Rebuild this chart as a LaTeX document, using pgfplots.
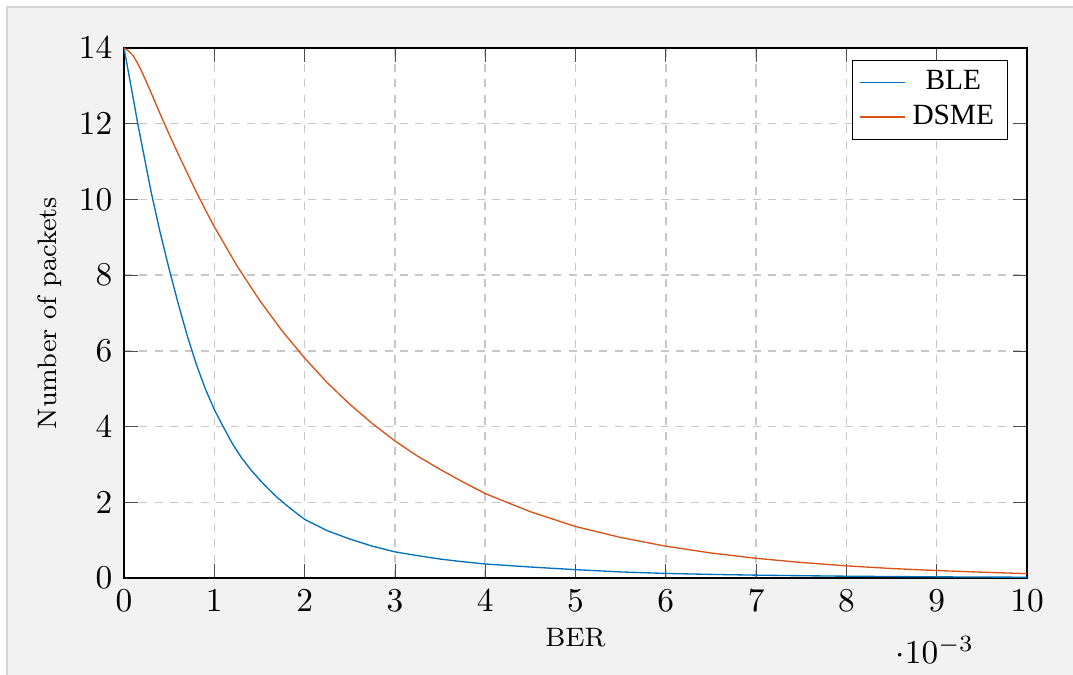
\documentclass[border=0pt]{standalone}
\usepackage{fontspec}
\usepackage{pgfplots}
\pgfplotsset{compat=1.18}
\newfontfamily\legfont{Liberation Serif}
\definecolor{bleblue}{rgb}{0,0.447,0.741}
\definecolor{dsmeorange}{rgb}{0.85,0.325,0.098}
\definecolor{bggray}{RGB}{242,242,242}
\definecolor{bordergray}{RGB}{212,212,212}
\definecolor{gridgray}{RGB}{200,200,200}
\begin{document}
\begin{tikzpicture}
\useasboundingbox (0,0) rectangle (321.9pt,202.5pt);
\fill[white] (0,0) rectangle (321.9pt,202.5pt);
\fill[bggray] (2.1pt,0) rectangle (321.9pt,200.4pt);
\draw[bordergray,line width=0.5pt] (2.1pt,0) -- (2.1pt,200.4pt) -- (321.9pt,200.4pt);
\begin{axis}[
  at={(37.2pt,29.1pt)}, anchor=south west,
  scale only axis,
  width=270.9pt, height=159pt,
  xmin=0, xmax=0.01, ymin=0, ymax=14,
  xtick={0,0.001,0.002,0.003,0.004,0.005,0.006,0.007,0.008,0.009,0.01},
  ytick={0,2,4,6,8,10,12,14},
  scaled x ticks=base 10:3,
  axis background/.style={fill=white},
  xmajorgrids, ymajorgrids,
  major grid style={gridgray, dash pattern=on 2.4pt off 2.2pt, line width=0.45pt},
  tick style={black!70},
  tick label style={font=\fontsize{9.6}{11}\selectfont},
  every x tick scale label/.style={at={(axis description cs:0.898,-0.136)},anchor=center,inner sep=0pt,font=\fontsize{9.6}{11}\selectfont},
  xlabel={BER}, ylabel={Number of packets},
  xlabel style={at={(axis description cs:0.5,-0.113)},anchor=center,font=\footnotesize},
  ylabel style={at={(axis description cs:-0.082,0.5)},anchor=center,rotate=0,font=\footnotesize},
  legend style={at={(rel axis cs:1,1)},xshift=-5.7pt,yshift=-3.6pt,anchor=north east,
    draw=black,fill=white,font=\legfont\fontsize{8.8}{10}\selectfont,
    inner xsep=2pt,inner ysep=1pt,row sep=-1pt},
  legend cell align=center,
  legend image code/.code={\draw[#1] (0pt,0pt) -- (13.7pt,0pt);},
]
\addplot[bleblue, line width=0.4pt] coordinates {
(0,14) (0.00005,13.35) (0.0001,12.7) (0.00015,12.03) (0.0002,11.42) (0.0003,10.2) (0.0004,9.13) (0.0005,8.16)
(0.0006,7.25) (0.0007,6.4) (0.0008,5.65) (0.0009,5.0) (0.001,4.45) (0.0011,3.99) (0.0012,3.55)
(0.0013,3.18) (0.0014,2.87) (0.0015,2.6) (0.0016,2.35) (0.0017,2.12) (0.0018,1.92) (0.0019,1.73)
(0.002,1.55) (0.00225,1.25) (0.0025,1.03) (0.00275,0.84) (0.003,0.69) (0.00325,0.59) (0.0035,0.5)
(0.00375,0.43) (0.004,0.37) (0.0045,0.29) (0.005,0.22) (0.0055,0.16) (0.006,0.12) (0.0065,0.095)
(0.007,0.075) (0.0075,0.06) (0.008,0.047) (0.0085,0.038) (0.009,0.03) (0.0095,0.025) (0.01,0.02)
};
\addlegendentry{BLE}
\addplot[dsmeorange, line width=0.4pt] coordinates {
(0,14) (0.00005,13.92) (0.0001,13.8) (0.00015,13.6) (0.0002,13.36) (0.0003,12.82) (0.0004,12.26)
(0.0005,11.72) (0.0006,11.2) (0.0007,10.7) (0.0008,10.2) (0.0009,9.73) (0.001,9.28) (0.00125,8.25)
(0.0015,7.34) (0.00175,6.53) (0.002,5.81) (0.00225,5.16) (0.0025,4.59) (0.00275,4.08) (0.003,3.62)
(0.00325,3.22) (0.0035,2.87) (0.00375,2.54) (0.004,2.23) (0.0045,1.75) (0.005,1.36) (0.0055,1.07)
(0.006,0.84) (0.0065,0.66) (0.007,0.52) (0.0075,0.41) (0.008,0.32) (0.0085,0.25) (0.009,0.197)
(0.0095,0.153) (0.01,0.115)
};
\addlegendentry{DSME}
\end{axis}
\end{tikzpicture}
\end{document}
